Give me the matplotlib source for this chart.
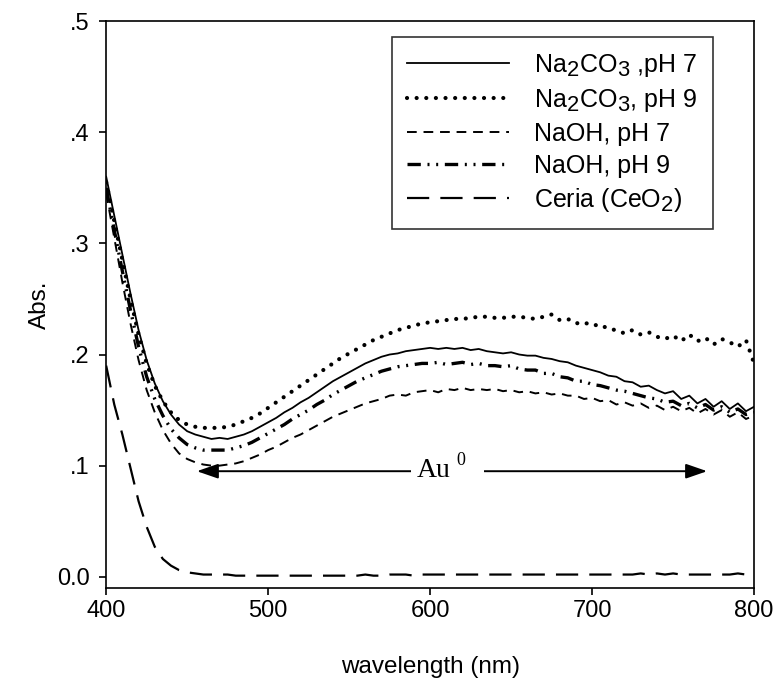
import matplotlib.pyplot as plt
import matplotlib._mathtext as mt
from matplotlib.patches import Rectangle
import numpy as np

plt.rcParams['font.family'] = ['Liberation Sans', 'DejaVu Sans']
plt.rcParams['mathtext.fontset'] = 'custom'
plt.rcParams['mathtext.rm'] = 'Liberation Sans'
plt.rcParams['mathtext.it'] = 'Liberation Sans:italic'
# subscripts in the original are almost full size
mt.SHRINK_FACTOR = 0.88

wl = np.arange(400, 801, 5)

na2co3_ph7 = [0.360, 0.325, 0.290, 0.255, 0.222, 0.195, 0.174, 0.158, 0.146, 0.137,
              0.131, 0.128, 0.126, 0.124, 0.125, 0.124, 0.126, 0.128, 0.131, 0.135,
              0.139, 0.143, 0.148, 0.152, 0.157, 0.161, 0.166, 0.171, 0.176, 0.180,
              0.184, 0.188, 0.192, 0.195, 0.198, 0.200, 0.201, 0.203, 0.204, 0.205,
              0.206, 0.205, 0.206, 0.205, 0.206, 0.204, 0.205, 0.203, 0.202, 0.201,
              0.202, 0.200, 0.199, 0.199, 0.197, 0.196, 0.194, 0.193, 0.190, 0.188,
              0.186, 0.184, 0.181, 0.180, 0.176, 0.175, 0.171, 0.172, 0.168, 0.165,
              0.167, 0.160, 0.163, 0.156, 0.160, 0.153, 0.158, 0.151, 0.156, 0.149,
              0.153]

na2co3_ph9 = [0.355, 0.320, 0.285, 0.250, 0.218, 0.192, 0.172, 0.158, 0.148, 0.141,
              0.137, 0.135, 0.134, 0.134, 0.134, 0.135, 0.137, 0.140, 0.143, 0.147,
              0.152, 0.157, 0.162, 0.167, 0.172, 0.177, 0.182, 0.187, 0.192, 0.197,
              0.201, 0.205, 0.209, 0.213, 0.216, 0.219, 0.222, 0.224, 0.226, 0.228,
              0.229, 0.230, 0.231, 0.232, 0.232, 0.233, 0.234, 0.234, 0.233, 0.233,
              0.234, 0.234, 0.233, 0.232, 0.234, 0.236, 0.231, 0.232, 0.228, 0.229,
              0.226, 0.227, 0.223, 0.222, 0.219, 0.222, 0.218, 0.220, 0.216, 0.214,
              0.217, 0.212, 0.218, 0.212, 0.215, 0.209, 0.214, 0.211, 0.207, 0.213,
              0.192]

naoh_ph7 = [0.345, 0.305, 0.265, 0.228, 0.195, 0.168, 0.148, 0.132, 0.120, 0.111,
            0.106, 0.103, 0.101, 0.100, 0.100, 0.101, 0.102, 0.104, 0.107, 0.110,
            0.114, 0.117, 0.121, 0.125, 0.128, 0.132, 0.136, 0.140, 0.144, 0.147,
            0.150, 0.153, 0.156, 0.158, 0.160, 0.163, 0.164, 0.163, 0.166, 0.167,
            0.168, 0.166, 0.169, 0.168, 0.170, 0.168, 0.169, 0.168, 0.169, 0.167,
            0.168, 0.166, 0.167, 0.165, 0.166, 0.164, 0.165, 0.163, 0.163, 0.160,
            0.161, 0.158, 0.159, 0.155, 0.157, 0.154, 0.156, 0.152, 0.154, 0.150,
            0.153, 0.149, 0.152, 0.147, 0.151, 0.146, 0.150, 0.144, 0.148, 0.142,
            0.145]

naoh_ph9 = [0.350, 0.312, 0.275, 0.240, 0.207, 0.180, 0.160, 0.145, 0.133, 0.125,
            0.119, 0.116, 0.114, 0.114, 0.114, 0.114, 0.116, 0.118, 0.121, 0.125,
            0.129, 0.133, 0.137, 0.142, 0.146, 0.150, 0.155, 0.159, 0.164, 0.168,
            0.172, 0.176, 0.179, 0.182, 0.185, 0.187, 0.189, 0.190, 0.191, 0.192,
            0.192, 0.193, 0.191, 0.192, 0.193, 0.191, 0.192, 0.190, 0.190, 0.189,
            0.190, 0.187, 0.186, 0.186, 0.183, 0.183, 0.180, 0.179, 0.176, 0.176,
            0.173, 0.172, 0.170, 0.168, 0.167, 0.165, 0.163, 0.161, 0.160, 0.157,
            0.158, 0.154, 0.156, 0.152, 0.155, 0.150, 0.153, 0.148, 0.151, 0.146,
            0.148]

ceria = [0.190, 0.155, 0.128, 0.098, 0.068, 0.045, 0.027, 0.016, 0.010, 0.006,
         0.004, 0.003, 0.002, 0.002, 0.002, 0.002, 0.001, 0.001, 0.001, 0.001,
         0.001, 0.001, 0.001, 0.001, 0.001, 0.001, 0.001, 0.001, 0.001, 0.001,
         0.001, 0.001, 0.002, 0.001, 0.001, 0.002, 0.002, 0.002, 0.001, 0.002,
         0.002, 0.002, 0.002, 0.002, 0.002, 0.002, 0.002, 0.002, 0.002, 0.002,
         0.002, 0.002, 0.002, 0.002, 0.002, 0.002, 0.002, 0.002, 0.002, 0.002,
         0.002, 0.002, 0.002, 0.002, 0.002, 0.002, 0.003, 0.002, 0.003, 0.002,
         0.003, 0.002, 0.002, 0.002, 0.002, 0.002, 0.002, 0.002, 0.003, 0.002,
         0.003]

labels = ['Na$_2$CO$_3$ ,pH 7', 'Na$_2$CO$_3$, pH 9', 'NaOH, pH 7',
          'NaOH, pH 9', 'Ceria (CeO$_2$)']

xticks = [400, 500, 600, 700, 800]
yticks = [0.0, 0.1, 0.2, 0.3, 0.4, 0.5]
yticklabels = ['0.0', '.1', '.2', '.3', '.4', '.5']

fig = plt.figure(figsize=(7.75, 6.82), dpi=100)
ax = fig.add_axes([0.137, 0.138, 0.836, 0.831])

ax.plot(wl, na2co3_ph7, color='black', lw=1.3, ls='-', label=labels[0])
ax.plot(wl, na2co3_ph9, color='black', lw=3.0, ls=(0, (0.01, 2.3)),
        dash_capstyle='round', label=labels[1])
ax.plot(wl, naoh_ph7, color='black', lw=1.4, ls=(0, (5, 3.5)), label=labels[2])
ax.plot(wl, naoh_ph9, color='black', lw=2.4, ls=(0, (4, 2, 0.6, 2, 0.6, 2)),
        label=labels[3])
ax.plot(wl, ceria, color='black', lw=1.6, ls=(0, (10, 5)), label=labels[4])

ax.set_xlim(400, 800)
ax.set_ylim(-0.01, 0.5)
ax.set_xticks(xticks)
ax.set_yticks(yticks)
ax.set_yticklabels(yticklabels)
ax.tick_params(direction='out', length=5, width=1.2, labelsize=17)
ax.tick_params(axis='x', pad=4)
ax.tick_params(axis='y', pad=7)
for s in ax.spines.values():
    s.set_linewidth(1.2)

ax.set_xlabel('wavelength (nm)', fontsize=17.5, labelpad=24)
ax.set_ylabel('Abs.', fontsize=17.5, labelpad=4)

# Au0 band arrow, with a white gap behind the label
ax.annotate('', xy=(456, 0.095), xytext=(771, 0.095),
            arrowprops=dict(arrowstyle='<|-|>,head_length=1.3,head_width=0.45',
                            color='black', lw=1.4, shrinkA=0, shrinkB=0))
ax.add_patch(Rectangle((588, 0.087), 45, 0.018, facecolor='white',
                       edgecolor='none', zorder=4))
ax.text(592, 0.096, 'Au', fontsize=20, ha='left', va='center',
        family='Liberation Serif', zorder=5)
ax.annotate('0', xy=(592, 0.096), xytext=(28, 7), textcoords='offset points',
            fontsize=13, ha='left', va='center', family='Liberation Serif', zorder=5)

leg = ax.legend(loc='upper left', bbox_to_anchor=(0.441, 0.972), borderaxespad=0,
                fontsize=18, handlelength=4.1, handletextpad=1.0, labelspacing=0.32,
                borderpad=0.6, fancybox=False, frameon=True)
leg.get_frame().set_edgecolor('black')
leg.get_frame().set_linewidth(1.2)

fig.savefig('out.png', dpi=100)
